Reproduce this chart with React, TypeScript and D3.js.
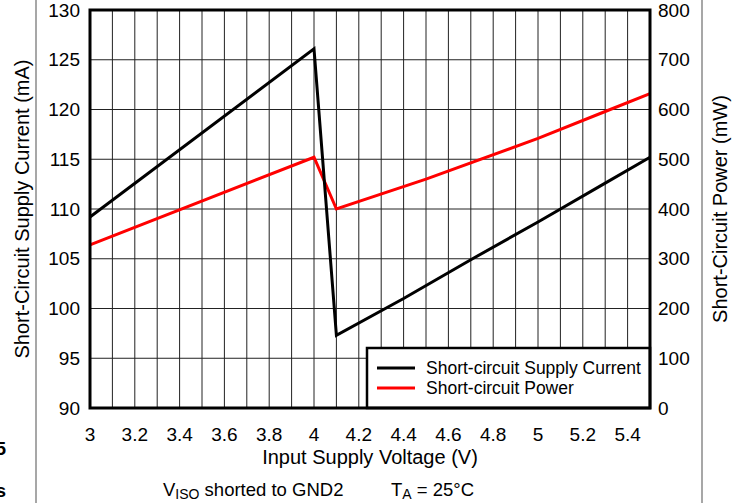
import React from "react";
import * as d3 from "d3";

// values (V -> mA / mW)
const currentV = [3.0, 4.0, 4.1, 4.4, 4.7, 5.0, 5.3, 5.5];
const currentMA = [109.2, 126.1, 97.3, 101.0, 104.9, 108.7, 112.6, 115.2];
const powerV = [3.0, 4.0, 4.1, 4.5, 5.0, 5.3, 5.5];
const powerMW = [328, 504, 400, 460, 542, 596, 632];

const xTickLabels = ["3", "3.2", "3.4", "3.6", "3.8", "4", "4.2", "4.4", "4.6", "4.8", "5", "5.2", "5.4"];
const leftTicks = [90, 95, 100, 105, 110, 115, 120, 125, 130];
const rightTicks = [0, 100, 200, 300, 400, 500, 600, 700, 800];

const seriesNames = ["Short-circuit Supply Current", "Short-circuit Power"];
const seriesColors = ["#000000", "#ff0000"];

const W = 744,
	H = 503;
const m = { left: 90, right: 650, top: 10, bottom: 408 };
const font = "Liberation Sans, Arial, Helvetica, sans-serif";

export default function App() {
	const x = d3.scaleLinear().domain([3, 5.5]).range([m.left, m.right]);
	const yL = d3.scaleLinear().domain([90, 130]).range([m.bottom, m.top]);
	const yR = d3.scaleLinear().domain([0, 800]).range([m.bottom, m.top]);

	const vGrid = x.ticks(25).filter((d) => d > 3 && d < 5.5);
	const hGrid = leftTicks.filter((d) => d > 90 && d < 130);

	const currentLine = d3
		.line<number>()
		.x((_, i) => x(currentV[i]))
		.y((d) => yL(d));
	const powerLine = d3
		.line<number>()
		.x((_, i) => x(powerV[i]))
		.y((d) => yR(d));

	const legend = { x0: 367, y0: 348, x1: m.right, y1: m.bottom };

	return (
		<div style={{ position: "absolute", left: 0, top: 0 }}>
			<svg width={W} height={H} style={{ display: "block", background: "#fff" }} fontFamily={font}>
				<rect width={W} height={H} fill="#fff" />
				{/* page frame lines */}
				<line x1={36} x2={36} y1={0} y2={H} stroke="#8a8a8a" strokeWidth={1.5} />
				<line x1={702} x2={702} y1={0} y2={H} stroke="#8a8a8a" strokeWidth={1.5} />
				<text x={6} y={455} fontSize={19} fontWeight="bold" textAnchor="end">5</text>
				<text x={6} y={497} fontSize={19} fontWeight="bold" textAnchor="end">s</text>

				{/* grid */}
				{vGrid.map((d) => (
					<line key={"v" + d} x1={x(d)} x2={x(d)} y1={m.top} y2={m.bottom} stroke="#222" strokeWidth={1} />
				))}
				{hGrid.map((d) => (
					<line key={"h" + d} x1={m.left} x2={m.right} y1={yL(d)} y2={yL(d)} stroke="#222" strokeWidth={1} />
				))}

				{/* series */}
				<path d={powerLine(powerMW) || ""} fill="none" stroke={seriesColors[1]} strokeWidth={3} strokeLinejoin="miter" />
				<path d={currentLine(currentMA) || ""} fill="none" stroke={seriesColors[0]} strokeWidth={3} strokeLinejoin="miter" />

				{/* legend */}
				<rect
					x={legend.x0}
					y={legend.y0}
					width={legend.x1 - legend.x0}
					height={legend.y1 - legend.y0}
					fill="#fff"
					stroke="#000"
					strokeWidth={2.5}
				/>
				{seriesNames.map((name, i) => (
					<g key={name}>
						<line x1={377} x2={415} y1={368 + i * 20} y2={368 + i * 20} stroke={seriesColors[i]} strokeWidth={3} />
						<text x={426} y={374 + i * 20} fontSize={17.5} fill="#000">
							{name}
						</text>
					</g>
				))}

				{/* frame */}
				<rect
					x={m.left}
					y={m.top}
					width={m.right - m.left}
					height={m.bottom - m.top}
					fill="none"
					stroke="#000"
					strokeWidth={3}
				/>

				{/* axes labels */}
				{xTickLabels.map((t) => (
					<text key={"x" + t} x={x(+t)} y={441} fontSize={19} textAnchor="middle">
						{t}
					</text>
				))}
				{leftTicks.map((t) => (
					<text key={"l" + t} x={80} y={yL(t)} dy="0.35em" fontSize={19} textAnchor="end">
						{t}
					</text>
				))}
				{rightTicks.map((t) => (
					<text key={"r" + t} x={658} y={yR(t)} dy="0.35em" fontSize={19} textAnchor="start">
						{t}
					</text>
				))}

				<text x={(m.left + m.right) / 2} y={464} fontSize={20} textAnchor="middle">
					Input Supply Voltage (V)
				</text>
				<text
					transform={`translate(29,${(m.top + m.bottom) / 2}) rotate(-90)`}
					fontSize={20}
					textAnchor="middle"
				>
					Short-Circuit Supply Current (mA)
				</text>
				<text
					transform={`translate(727,${(m.top + m.bottom) / 2}) rotate(-90)`}
					fontSize={20}
					textAnchor="middle"
				>
					Short-Circuit Power (mW)
				</text>

				{/* conditions */}
				<text x={163} y={496} fontSize={18.5}>
					V<tspan fontSize={14} dy={3}>ISO</tspan>
					<tspan dy={-3}> shorted to GND2</tspan>
				</text>
				<text x={391} y={496} fontSize={18.5}>
					T<tspan fontSize={14} dy={3}>A</tspan>
					<tspan dy={-3}> = 25°C</tspan>
				</text>
			</svg>
		</div>
	);
}
